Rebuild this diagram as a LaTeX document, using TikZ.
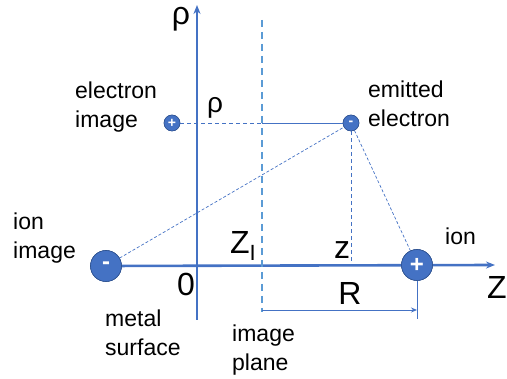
\documentclass[tikz,border=0pt]{standalone}
\usepackage{fontspec}
\setmainfont{Liberation Sans}
\usetikzlibrary{arrows.meta, positioning}

\definecolor{axisblue}{HTML}{4472C4}
\definecolor{planeblue}{HTML}{5B9BD5}
\definecolor{rimblue}{HTML}{2F528F}

\begin{document}
\begin{tikzpicture}[
    x=1pt, y=-1pt,
    axis/.style={draw=axisblue, line width=2.6pt},
    thinline/.style={draw=axisblue, line width=0.9pt},
    guide/.style={draw=axisblue, line width=0.9pt, dash pattern=on 4pt off 3pt},
    rayline/.style={draw=axisblue, line width=0.7pt, dash pattern=on 3pt off 2pt},
    plane/.style={draw=planeblue, line width=1.5pt, dash pattern=on 7pt off 5pt},
    bigcharge/.style={circle, fill=axisblue, draw=rimblue, line width=0.6pt, minimum size=31pt, inner sep=0pt, text=white, font=\fontsize{24}{24}\selectfont\bfseries},
    smallcharge/.style={circle, fill=axisblue, draw=rimblue, line width=0.5pt, minimum size=16pt, inner sep=0pt, text=white, font=\fontsize{14}{14}\selectfont\bfseries},
    label/.style={align=left, anchor=west, inner sep=0pt, font=\fontsize{23}{29}\selectfont},
    symb/.style={inner sep=0pt, font=\fontsize{32}{32}\selectfont}
]
\useasboundingbox (0,0) rectangle (507,379);

% Axis end points
\coordinate (rhotop) at (197,5);
\coordinate (rhobot) at (197,320);
\coordinate (zend) at (495,265);
\coordinate (planetop) at (262,20);
\coordinate (planebot) at (262,312);
\coordinate (planehit) at (262,123);
\coordinate (foot) at (351,265);
\coordinate (rbot) at (417,319);
\coordinate (rstart) at (262,310);
\coordinate (rend) at (417,310);

% Charges
\node[bigcharge] (ionimg) at (106,266) {-};
\node[bigcharge] (ion) at (417,265) {+};
\node[smallcharge] (elec) at (351,123) {-};
\node[smallcharge] (elecimg) at (172,123) {+};

% Axes
\draw[axis, -{Stealth[length=9pt, width=7pt]}] (rhobot) -- (rhotop);
\draw[axis, -{Stealth[length=9pt, width=7pt]}] (ionimg) -- (zend);

% Image plane
\draw[plane] (planetop) -- (planebot);

% Electron and its image
\draw[guide] (elecimg) -- (planehit);
\draw[thinline] (planehit) -- (elec);
\draw[guide] (elec) -- (foot);
\draw[rayline] (ionimg) -- (elec);
\draw[rayline] (elec) -- (ion);

% Distance R
\draw[thinline] (ion) -- (rbot);
\draw[thinline, -{Stealth[length=6pt, width=5pt]}] (rstart) -- (rend);

% Redraw charges on top
\node[bigcharge] at (ionimg) {-};
\node[bigcharge] at (ion) {+};
\node[smallcharge] at (elec) {-};
\node[smallcharge] at (elecimg) {+};

% Labels
\node[label] (elecimgtext) at (75,107) {electron\\image};
\node[label] (electext) at (368,104) {emitted\\electron};
\node[label] (ionimgtext) at (13,238) {ion\\image};
\node[label] (iontext) at (445,236) {ion};
\node[label] (metaltext) at (105,333) {metal\\surface};
\node[label] (planetext) at (232,350) {image\\plane};

% Symbols
\node[symb] (rholabel) at (181,19) {ρ};
\node[symb, font=\fontsize{28}{28}\selectfont] (rhosmall) at (215,108) {ρ};
\node[symb] (zilabel) at (243,246) {Z\raisebox{-0.45ex}{\fontsize{22}{22}\selectfont I}};
\node[symb] (zlabel) at (342,250) {z};
\node[symb] (zerolabel) at (186,284) {0};
\node[symb] (rlabel) at (350,293) {R};
\node[symb, anchor=west] (zaxislabel) at (487,287) {Z};

\end{tikzpicture}
\end{document}
